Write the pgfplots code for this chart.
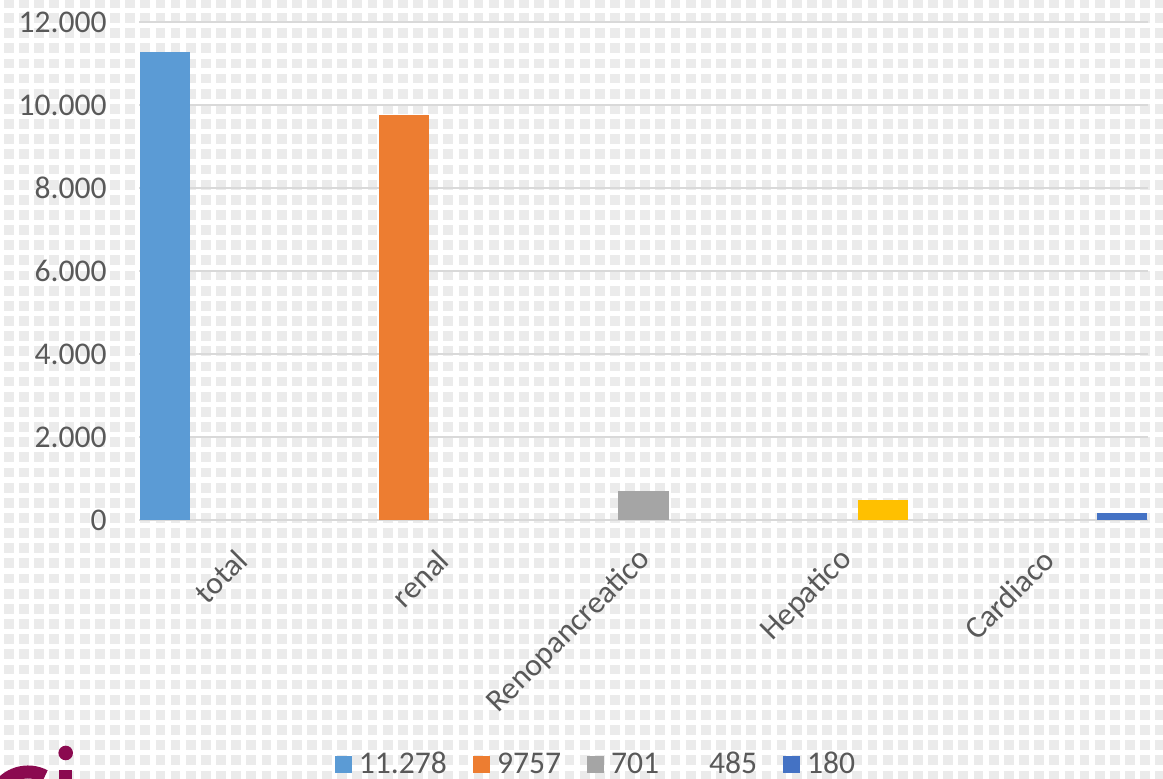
\documentclass[border=0pt]{standalone}
\usepackage{fontspec}
\setmainfont{Carlito}
\usepackage{pgfplots}
\pgfplotsset{compat=1.18}
\definecolor{bgsq}{HTML}{EBEBEB}
\definecolor{gridc}{HTML}{D9D9D9}
\definecolor{txt}{HTML}{595959}
\definecolor{cTotal}{HTML}{5B9BD5}
\definecolor{cRenal}{HTML}{ED7D31}
\definecolor{cReno}{HTML}{A5A5A5}
\definecolor{cHep}{HTML}{FFC000}
\definecolor{cCard}{HTML}{4472C4}
\definecolor{logo}{HTML}{8B0A50}
\begin{document}
\begin{tikzpicture}
\path[use as bounding box] (0,0) rectangle (581.5pt,389.5pt);
\clip (0,0) rectangle (581.5pt,389.5pt);
\fill[white] (0,0) rectangle (581.5pt,389.5pt);
\foreach \j in {-1,...,52}{
  \draw[bgsq, line width=4.9pt, dash pattern=on 4.9pt off 2.675pt] (2pt,{(380.5-7.575*\j)*1pt}) -- (590pt,{(380.5-7.575*\j)*1pt});
}
% logo fragment
\draw[logo, line width=6.5pt] (14pt,-14.5pt) ++(62:18pt) arc[start angle=62, end angle=185, radius=18pt];
\fill[logo] (32.85pt,13pt) circle[radius=3.65pt];
\fill[logo] (29.5pt,4.5pt) rectangle (36pt,-5pt);
\begin{axis}[
  at={(69.5pt,129.5pt)}, anchor=south west,
  scale only axis, width=504.5pt, height=249pt,
  xmin=-0.5, xmax=4.5, ymin=0, ymax=12000,
  ybar, bar shift=0pt, bar width=0.248,
  axis line style={draw=none},
  major tick length=0pt,
  ymajorgrids, grid style={gridc, line width=0.8pt},
  ytick={0,2000,...,12000},
  scaled y ticks=false,
  /pgf/number format/1000 sep={.},
  /pgf/number format/assume math mode=true,
  xtick={0,1,2,3,4},
  xticklabels={total,renal,Renopancreatico,Hepatico,Cardiaco},
  tick label style={font=\fontsize{15.8}{18}\selectfont, text=txt, inner sep=0pt},
  yticklabel style={anchor=east, xshift=-16pt},
  xticklabel style={xshift=1pt, yshift=-17.5pt, rotate=45, anchor=east},
  legend columns=-1,
  legend style={at={(0.453,-0.491)}, anchor=center, draw=none, fill=none,
    font=\fontsize{15.8}{18}\selectfont, text=txt,
    nodes={inner sep=1pt},
    /tikz/every even column/.append style={column sep=12pt},
    /tikz/every odd column/.append style={column sep=2.5pt}},
  legend image code/.code={\path[#1, draw=none] (0pt,-4.25pt) rectangle (8.5pt,4.25pt);},
]
\addplot[fill=cTotal, draw=none] coordinates {(-0.371,11278)};
\addlegendentry{11.278}
\addplot[fill=cRenal, draw=none] coordinates {(0.813,9757)};
\addlegendentry{9757}
\addplot[fill=cReno, draw=none] coordinates {(2.0,701)};
\addlegendentry{701}
\addplot[fill=cHep, draw=none, legend image code/.code={\path[fill=none, draw=none] (0pt,-4.25pt) rectangle (8.5pt,4.25pt);}] coordinates {(3.187,485)};
\addlegendentry{485}
\addplot[fill=cCard, draw=none] coordinates {(4.371,180)};
\addlegendentry{180}
\end{axis}
\end{tikzpicture}
\end{document}
